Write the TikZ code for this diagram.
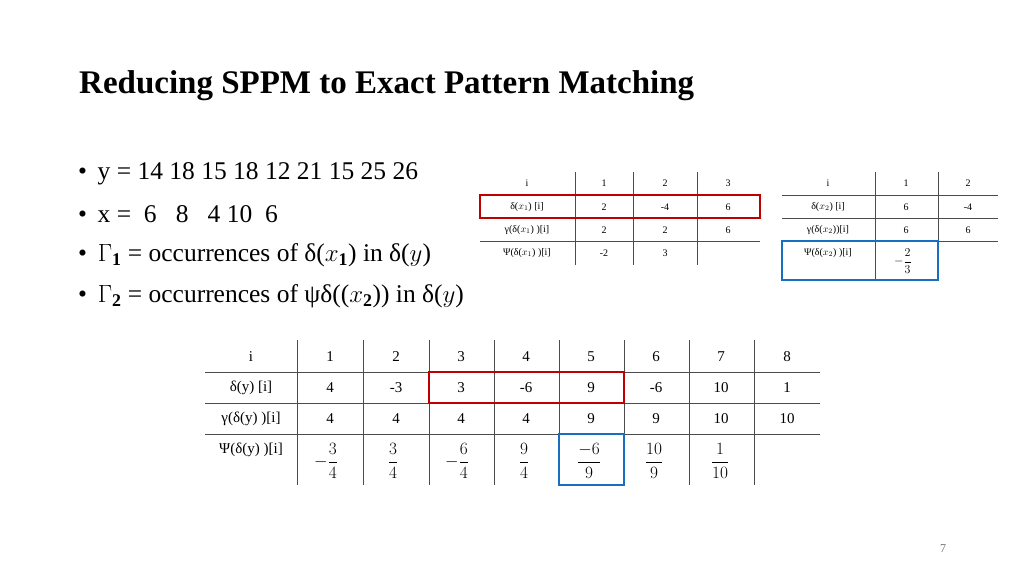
\documentclass[tikz,border=0pt]{standalone}
\usepackage{fontspec}
\setmainfont{Liberation Serif}
\begin{document}
\begin{tikzpicture}[x=1pt,y=-1pt,
  grid/.style={draw=black!70,line width=1pt},
  redbox/.style={draw=red!75!black,line width=1.2pt},
  bluebox/.style={draw=cyan!50!blue,line width=1.2pt},
  bigc/.style={font=\fontsize{15}{18}\selectfont,inner sep=0pt},
  frc/.style={font=\fontsize{19}{22}\selectfont,inner sep=0pt},
  smc/.style={font=\fontsize{10}{12}\selectfont,inner sep=0pt},
  bul/.style={anchor=west,font=\fontsize{25.5}{30}\selectfont,inner sep=0pt}]
\useasboundingbox (0,0) rectangle (1024,576);
\node[anchor=west,inner sep=0pt,font=\bfseries\fontsize{33}{38}\selectfont] (title) at (79,86) {Reducing SPPM to Exact Pattern Matching};
\node[bul] (b1) at (78,174) {\textbullet\ \,y = 14 18 15 18 12 21 15 25 26};
\node[bul] (b2) at (78,214) {\textbullet\ \,x = \ 6 \ \ 8 \ \ 4 10 \ 6};
\node[bul] (b3) at (78,255) {\textbullet\ \,$\Gamma_{\mathbf 1}$ = occurrences of δ($x_{\mathbf 1}$) in δ($y$)};
\node[bul] (b4) at (78,296) {\textbullet\ \,$\Gamma_{\mathbf 2}$ = occurrences of ψδ(($x_{\mathbf 2}$)) in δ($y$)};
% big table
\foreach \x in {297,363,429,494,559,624,689,754} \draw[grid,line width=0.8pt] (\x,340) -- (\x,485);
\foreach \y in {372,403,434} \draw[grid] (205,\y) -- (820,\y);
\draw[redbox] (429,372) rectangle (624,403);
\draw[bluebox] (559,434) rectangle (624,485);
\node[bigc] (h0) at (251,357) {i};
\node[bigc] (r1) at (251,388) {δ(y) [i]};
\node[bigc] (r2) at (251,419) {γ(δ(y) )[i]};
\node[bigc] (r3) at (251,450) {Ψ(δ(y) )[i]};
\foreach \c/\x/\a/\b/\g in {1/330/4/4/4,2/396/-3/4/4,3/461/3/4/4,4/526/-6/4/4,5/591/9/9/9,6/656/-6/9/9,7/721/10/10/10,8/787/1/10/10}{
  \node[bigc] (hc\c) at (\x,357) {\c};
  \node[bigc] (dc\c) at (\x,388) {\a};
  \node[bigc] (gc\c) at (\x,419) {\g};
}
\node[frc] (p1) at (326,461) {$\displaystyle-\frac{3}{4}$};
\node[frc] (p2) at (393,461) {$\displaystyle\frac{3}{4}$};
\node[frc] (p3) at (457,461) {$\displaystyle-\frac{6}{4}$};
\node[frc] (p4) at (524,461) {$\displaystyle\frac{9}{4}$};
\node[frc] (p5) at (589,461) {$\displaystyle\frac{-6}{9}$};
\node[frc] (p6) at (654,461) {$\displaystyle\frac{10}{9}$};
\node[frc] (p7) at (720,461) {$\displaystyle\frac{1}{10}$};
% small table 1
\foreach \x in {575,633,697} \draw[grid,line width=0.8pt] (\x,172) -- (\x,265);
\foreach \y in {195,218,241} \draw[grid,line width=0.8pt] (480,\y) -- (760,\y);
\draw[redbox] (480,195) rectangle (760,218);
\node[smc] (s0) at (527,183) {i};
\node[smc] (s1) at (527,207) {δ($x_1$) [i]};
\node[smc] (s2) at (527,230) {γ(δ($x_1$) )[i]};
\node[smc] (s3) at (527,253) {Ψ(δ($x_1$) )[i]};
\foreach \c/\x/\a/\g in {1/604/2/2,2/665/-4/2,3/728/6/6}{
  \node[smc] (sh\c) at (\x,183) {\c};
  \node[smc] (sd\c) at (\x,207) {\a};
  \node[smc] (sg\c) at (\x,230) {\g};
}
\node[smc] (sp1) at (604,253) {-2};
\node[smc] (sp2) at (665,253) {3};
% small table 2
\foreach \x in {875,938} \draw[grid,line width=0.8pt] (\x,172) -- (\x,241);
\draw[grid,line width=0.8pt] (875,241) -- (875,280);
\foreach \y in {195,218,241} \draw[grid,line width=0.8pt] (782,\y) -- (998,\y);
\draw[bluebox] (782,241) rectangle (938,280);
\node[smc] (t0) at (828,183) {i};
\node[smc] (t1) at (828,207) {δ($x_2$) [i]};
\node[smc] (t2) at (828,230) {γ(δ($x_2$))[i]};
\node[smc] (t3) at (828,253) {Ψ(δ($x_2$) )[i]};
\foreach \c/\x/\a/\g in {1/906/6/6,2/968/-4/6}{
  \node[smc] (th\c) at (\x,183) {\c};
  \node[smc] (td\c) at (\x,207) {\a};
  \node[smc] (tg\c) at (\x,230) {\g};
}
\node[font=\fontsize{12.5}{14}\selectfont,inner sep=0pt] (tp1) at (903,261) {$\displaystyle-\frac{2}{3}$};
\node[font=\fontsize{12}{14}\selectfont,text=black!55] (pg) at (943,549) {7};
\end{tikzpicture}
\end{document}
